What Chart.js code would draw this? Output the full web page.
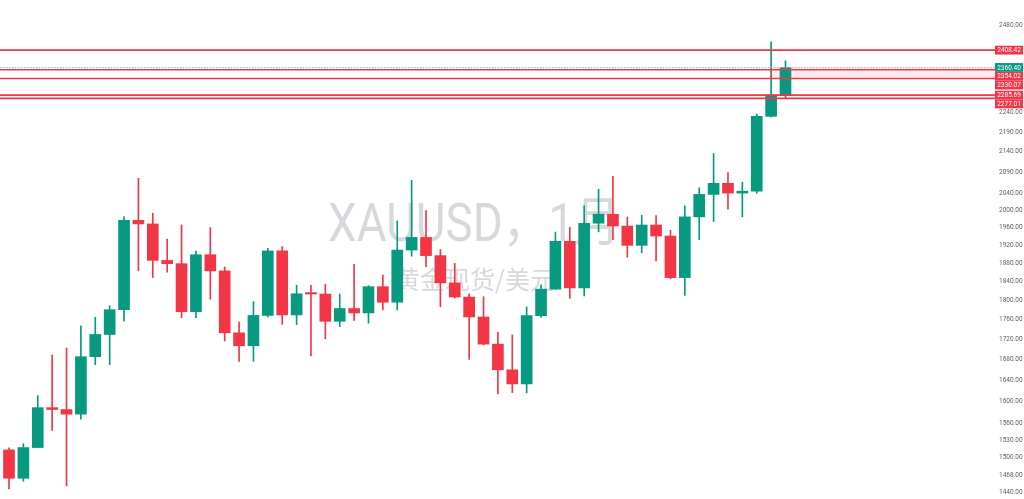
<!DOCTYPE html>
<html>
<head>
<meta charset="utf-8">
<script src="https://cdn.jsdelivr.net/npm/chart.js@4.4.1/dist/chart.umd.min.js"></script>
<style>
  html, body { margin: 0; padding: 0; background: #fff; }
  #wrap { width: 1024px; height: 499px; position: relative; }
</style>
</head>
<body>
<div id="wrap"><canvas id="goldChart"></canvas></div>
<script>
// XAUUSD monthly candles, Nov 2019 .. May 2024
const opens = [
  1513.0, 1463.9, 1517.1, 1589.2, 1585.7, 1577.2, 1686.2, 1730.3, 1780.9, 1975.9,
  1967.7, 1886.0, 1878.8, 1776.7, 1898.4, 1863.1, 1733.7, 1707.7, 1769.1, 1906.9,
  1770.1, 1814.2, 1813.6, 1757.0, 1783.4, 1774.2, 1829.2, 1796.4, 1908.8, 1937.1,
  1896.5, 1837.3, 1807.3, 1765.9, 1711.0, 1660.6, 1633.6, 1768.5, 1824.0, 1928.3,
  1826.6, 1969.3, 1990.0, 1962.8, 1919.3, 1965.2, 1940.2, 1848.6, 1983.9, 2036.4,
  2062.9, 2039.5, 2044.1, 2229.9, 2285.7
];
const highs = [
  1516.6, 1524.0, 1611.4, 1689.3, 1703.4, 1747.7, 1765.4, 1789.1, 1984.5, 2075.1,
  1992.3, 1933.3, 1965.4, 1906.4, 1959.4, 1871.6, 1755.4, 1797.9, 1912.9, 1916.6,
  1832.4, 1832.3, 1834.0, 1813.8, 1877.2, 1831.4, 1853.8, 1974.4, 2070.4, 1998.4,
  1909.8, 1879.4, 1814.3, 1807.9, 1735.1, 1729.5, 1786.5, 1833.4, 1949.2, 1959.7,
  2009.7, 2048.8, 2079.4, 1983.5, 1987.5, 1987.1, 1953.0, 2009.5, 2052.1, 2135.4,
  2088.5, 2065.5, 2236.0, 2431.5, 2378.7
];
const lows = [
  1445.7, 1458.9, 1517.1, 1547.6, 1451.0, 1567.9, 1670.6, 1670.7, 1757.5, 1863.2,
  1848.8, 1860.3, 1764.3, 1764.6, 1802.7, 1717.4, 1676.8, 1677.2, 1765.8, 1750.8,
  1750.4, 1687.7, 1721.6, 1746.2, 1758.9, 1753.3, 1780.3, 1780.3, 1895.2, 1872.1,
  1786.9, 1805.1, 1681.0, 1709.7, 1614.8, 1617.3, 1616.6, 1765.2, 1823.6, 1804.7,
  1809.6, 1949.6, 1932.1, 1893.0, 1902.8, 1884.9, 1846.2, 1810.5, 1931.7, 1973.1,
  2001.9, 1984.2, 2038.8, 2228.7, 2277.0
];
const closes = [
  1463.9, 1517.1, 1589.2, 1585.7, 1577.2, 1686.2, 1730.3, 1780.9, 1975.9, 1967.7,
  1886.0, 1878.8, 1776.7, 1898.4, 1863.1, 1733.7, 1707.7, 1769.1, 1906.9, 1770.1,
  1814.2, 1813.6, 1757.0, 1783.4, 1774.2, 1829.2, 1796.4, 1908.8, 1937.1, 1896.5,
  1837.3, 1807.3, 1765.9, 1711.0, 1660.6, 1633.6, 1768.5, 1824.0, 1928.3, 1826.6,
  1969.3, 1990.0, 1962.8, 1919.3, 1965.2, 1940.2, 1848.6, 1983.9, 2036.4, 2062.9,
  2039.5, 2044.1, 2229.9, 2285.7, 2360.4
];

const tickValues = [
  2480, 2240, 2190, 2140, 2090, 2040, 2000, 1960, 1920, 1880, 1840,
  1800, 1760, 1720, 1680, 1640, 1600, 1560, 1530, 1500, 1468, 1440
];
const levelValues = [2408.42, 2354.02, 2330.07, 2285.69, 2277.01];
const lastPrice = 2360.40;
const zoneTop = 2360.40;
const zoneBottom = 2330.07;
const zoneStart = 53;
const watermarkTitle = "XAUUSD，1月";
const watermarkSub = "黄金现货/美元";

const UP = "#089981";
const DOWN = "#f23645";

const candleColors = opens.map((o, i) => (closes[i] >= o ? UP : DOWN));

const overlayPlugin = {
  id: "overlay",
  beforeDatasetsDraw(chart) {
    const { ctx, chartArea, scales } = chart;
    const x = scales.x;
    const y = scales.y;
    ctx.save();

    // watermark
    ctx.fillStyle = "rgba(135, 138, 148, 0.33)";
    ctx.textAlign = "center";
    ctx.textBaseline = "alphabetic";
    ctx.font = '53px Roboto, "Noto Sans CJK SC", sans-serif';
    const w = ctx.measureText(watermarkTitle).width;
    const k = 292 / w;
    ctx.save();
    ctx.translate(474, 241);
    ctx.scale(k, 1);
    ctx.fillText(watermarkTitle, 0, 0);
    ctx.restore();
    ctx.textBaseline = "middle";
    ctx.font = '25px "Noto Sans CJK SC", sans-serif';
    ctx.fillText(watermarkSub, 475, 279);

    // shaded zone
    const zx = x.getPixelForValue(zoneStart);
    const zt = y.getPixelForValue(zoneTop);
    const zb = y.getPixelForValue(zoneBottom);
    ctx.fillStyle = "rgba(242, 54, 69, 0.1)";
    ctx.fillRect(zx, zt, chartArea.right - zx, zb - zt);
    ctx.restore();
  },
  afterDatasetsDraw(chart) {
    const { ctx, chartArea, scales } = chart;
    const x = scales.x;
    const y = scales.y;
    ctx.save();

    // level lines
    ctx.strokeStyle = DOWN;
    ctx.lineWidth = 1.6;
    levelValues.forEach((v) => {
      const py = y.getPixelForValue(v);
      ctx.beginPath();
      ctx.moveTo(chartArea.left, py);
      ctx.lineTo(chartArea.right, py);
      ctx.stroke();
    });
    const zx = x.getPixelForValue(zoneStart);
    ctx.lineWidth = 1;
    ctx.beginPath();
    ctx.moveTo(zx, y.getPixelForValue(levelValues[1]));
    ctx.lineTo(zx, y.getPixelForValue(levelValues[2]));
    ctx.stroke();

    // last price line
    const lp = y.getPixelForValue(lastPrice);
    ctx.strokeStyle = "#b2b5be";
    ctx.setLineDash([1.5, 1.5]);
    ctx.beginPath();
    ctx.moveTo(chartArea.left, lp);
    ctx.lineTo(chartArea.right, lp);
    ctx.stroke();
    ctx.setLineDash([]);

    // price labels on the axis, pushed down when they overlap
    const boxes = [{ v: lastPrice, color: UP }]
      .concat(levelValues.map((v) => ({ v: v, color: DOWN })))
      .map((b) => ({ ...b, cy: y.getPixelForValue(b.v) }))
      .sort((a, b) => a.cy - b.cy);
    const H = 8.8;
    for (let i = 1; i < boxes.length; i++) {
      if (boxes[i].cy < boxes[i - 1].cy + H) {
        boxes[i].cy = boxes[i - 1].cy + H;
      }
    }
    ctx.font = "6.5px Roboto, sans-serif";
    ctx.textAlign = "center";
    ctx.textBaseline = "middle";
    boxes.forEach((b) => {
      ctx.fillStyle = b.color;
      ctx.fillRect(chartArea.right, b.cy - H / 2, 28, H);
      ctx.fillStyle = "#ffffff";
      ctx.fillText(b.v.toFixed(2), chartArea.right + 14, b.cy + 0.5);
    });
    ctx.restore();
  },
};

const ctx = document.getElementById("goldChart").getContext("2d");

new Chart(ctx, {
  type: "bar",
  data: {
    datasets: [
      {
        label: "body",
        data: opens.map((o, i) => ({ x: i, y: [o, closes[i]] })),
        backgroundColor: candleColors,
        barThickness: 11,
        minBarLength: 1.5,
        grouped: false,
        order: 1,
      },
      {
        label: "wick",
        data: opens.map((o, i) => ({ x: i, y: [lows[i], highs[i]] })),
        backgroundColor: candleColors,
        barThickness: 1,
        grouped: false,
        order: 2,
      },
    ],
  },
  options: {
    responsive: true,
    maintainAspectRatio: false,
    animation: false,
    layout: { padding: 0 },
    plugins: {
      legend: { display: false },
      tooltip: { enabled: false },
    },
    scales: {
      x: {
        type: "linear",
        display: false,
        offset: false,
        min: -0.626,
        max: 68.57,
      },
      y: {
        type: "logarithmic",
        position: "right",
        min: 1429,
        max: 2553,
        grid: { display: false, drawTicks: false },
        border: { display: false },
        afterBuildTicks: (scale) => {
          scale.ticks = tickValues.map((v) => ({ value: v }));
        },
        afterFit: (scale) => {
          scale.width = 29;
          scale.paddingTop = 0;
          scale.paddingBottom = 0;
        },
        ticks: {
          autoSkip: false,
          padding: 4,
          color: "#5d606b",
          font: { size: 6.5, family: "Roboto" },
          callback: (value) => Number(value).toFixed(2),
        },
      },
    },
  },
  plugins: [overlayPlugin],
});
</script>
</body>
</html>
